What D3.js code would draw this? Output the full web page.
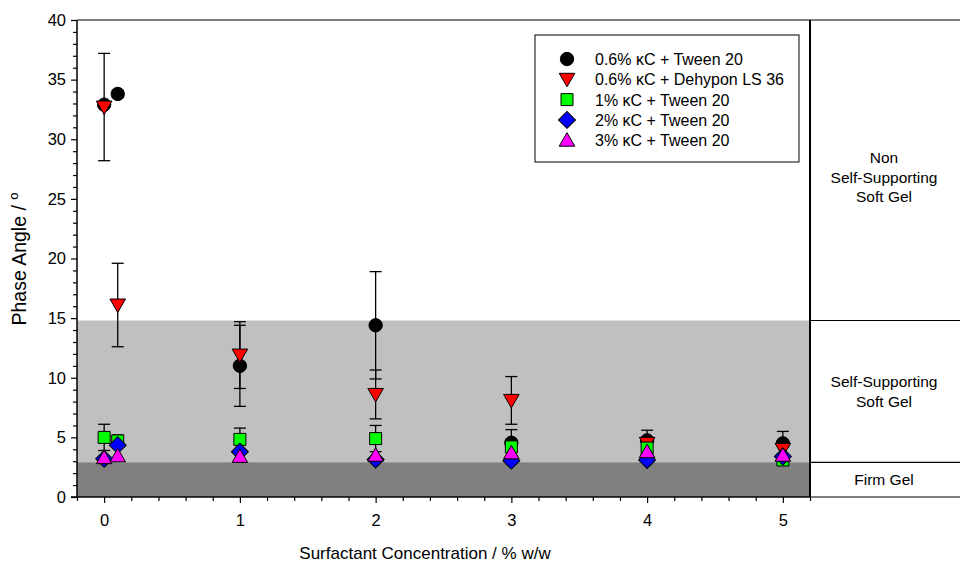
<!DOCTYPE html>
<html><head><meta charset="utf-8">
<script src="https://cdn.jsdelivr.net/npm/d3@7"></script>
<style>body{margin:0;background:#fff;} text{font-family:"Liberation Sans",Arial,sans-serif;}</style>
</head><body><svg id="c" width="960" height="564"></svg>
<script>
const xValues = [0, 0.1, 1, 2, 3, 4, 5];
const seriesNames = ["0.6% \u03BAC + Tween 20", "0.6% \u03BAC + Dehypon LS 36", "1% \u03BAC + Tween 20", "2% \u03BAC + Tween 20", "3% \u03BAC + Tween 20"];
const kc06Tween = [32.9, 33.8, 11.0, 14.4, 4.55, 4.75, 4.5];
const kc06Tween_err = [0, 0.3, 3.4, 4.5, 1.1, 0.85, 1.0];
const kc06Dehypon = [32.7, 16.1, 11.9, 8.6, 8.1, 4.5, 4.0];
const kc06Dehypon_err = [4.5, 3.5, 2.8, 2.05, 2.0, 0, 0];
const kc1Tween = [5.0, 4.7, 4.83, 4.9, 4.2, 4.1, 3.1];
const kc1Tween_err = [1.1, 0.5, 0.95, 1.1, 0, 0, 0];
const kc2Tween = [3.2, 4.35, 3.8, 3.15, 3.05, 3.1, 3.4];
const kc3Tween = [3.3, 3.45, 3.4, 3.5, 3.7, 3.8, 3.5];
const yTicks = [0, 5, 10, 15, 20, 25, 30, 35, 40];
const xTicks = [0, 1, 2, 3, 4, 5];
const zoneBounds = [2.9, 14.8];
const zoneLabels = [["Firm Gel"], ["Self-Supporting", "Soft Gel"], ["Non", "Self-Supporting", "Soft Gel"]];

const svg = d3.select("#c");
const L = 77, R = 810, T = 20, B = 497, PR = 960;
const x = d3.scaleLinear().domain([-0.2, 5.2]).range([L, R]);
const y = d3.scaleLinear().domain([0, 40]).range([B, T]);

// shaded zones
svg.append("rect").attr("x", L).attr("width", R - L).attr("y", y(zoneBounds[1])).attr("height", y(0) - y(zoneBounds[1])).attr("fill", "#c0c0c0");
svg.append("rect").attr("x", L).attr("width", R - L).attr("y", y(zoneBounds[0])).attr("height", y(0) - y(zoneBounds[0])).attr("fill", "#808080");

// frame lines
svg.append("line").attr("x1", L).attr("x2", PR).attr("y1", T).attr("y2", T).attr("stroke", "#000").attr("stroke-width", 1.2);
svg.append("line").attr("x1", R).attr("x2", PR).attr("y1", B).attr("y2", B).attr("stroke", "#000").attr("stroke-width", 1.2);
zoneBounds.forEach(b => svg.append("line").attr("x1", R).attr("x2", PR).attr("y1", y(b)).attr("y2", y(b)).attr("stroke", "#000").attr("stroke-width", 1.2));
svg.append("line").attr("x1", R).attr("x2", R).attr("y1", T).attr("y2", B).attr("stroke", "#000").attr("stroke-width", 2);

// zone labels
const zoneCenters = [(0 + zoneBounds[0]) / 2, (zoneBounds[0] + zoneBounds[1]) / 2, 26.8];
zoneLabels.forEach((lines, i) => {
  const cy = y(zoneCenters[i]);
  const n = lines.length, lh = 19.5;
  lines.forEach((t, j) => {
    svg.append("text").attr("x", 884).attr("y", cy + (j - (n - 1) / 2) * lh + 5.5)
      .attr("text-anchor", "middle").attr("font-size", 15.5).text(t);
  });
});

// axes
const yAxis = d3.axisLeft(y).tickValues(yTicks).tickSize(6).tickPadding(5);
const yg = svg.append("g").attr("transform", `translate(${L},0)`).call(yAxis);
const yMinor = d3.axisLeft(y).tickValues(d3.range(0, 41, 1).filter(v => v % 5)).tickSize(4).tickFormat("");
svg.append("g").attr("transform", `translate(${L},0)`).call(yMinor).select(".domain").remove();
const xAxis = d3.axisBottom(x).tickValues(xTicks).tickFormat(d3.format("d")).tickSize(6).tickPadding(11);
const xg = svg.append("g").attr("transform", `translate(0,${B})`).call(xAxis);
const xMinor = d3.axisBottom(x).tickValues(d3.range(-0.2, 5.21, 0.2).filter(v => Math.abs(v - Math.round(v)) > 0.01)).tickSize(4).tickFormat("");
svg.append("g").attr("transform", `translate(0,${B})`).call(xMinor).select(".domain").remove();
svg.selectAll(".domain").attr("stroke-width", 1.5);
yg.select(".domain").attr("d", `M-6,${B}H0V${T}`);
xg.select(".domain").attr("d", `M${L},0H${R}`);
svg.selectAll(".tick line").attr("stroke-width", 1.2);
svg.selectAll(".tick text").attr("font-size", 16.5).attr("font-family", "Liberation Sans, Arial, sans-serif").attr("fill", "#000");

// axis titles
svg.append("text").attr("x", 425).attr("y", 559).attr("text-anchor", "middle").attr("font-size", 17).text("Surfactant Concentration / % w/w");
const yt = svg.append("text").attr("transform", "translate(26,259) rotate(-90)").attr("text-anchor", "middle").attr("font-size", 19.5);
yt.append("tspan").text("Phase Angle / ");
yt.append("tspan").attr("font-size", 13).attr("dy", -8).text("o");

// symbols
const sym = {
  circle: d3.symbol().type(d3.symbolCircle).size(140),
  tri: d3.symbol().type(d3.symbolTriangle).size(105),
  square: d3.symbol().type(d3.symbolSquare).size(144),
  diamond: d3.symbol().type(d3.symbolSquare).size(144)
};
const series = [
  {name: seriesNames[0], vals: kc06Tween, err: kc06Tween_err, fill: "#000000", shape: "circle", rot: 0},
  {name: seriesNames[1], vals: kc06Dehypon, err: kc06Dehypon_err, fill: "#ff0000", shape: "tri", rot: 180},
  {name: seriesNames[2], vals: kc1Tween, err: kc1Tween_err, fill: "#00ff00", shape: "square", rot: 0},
  {name: seriesNames[3], vals: kc2Tween, err: null, fill: "#0000ff", shape: "diamond", rot: 45},
  {name: seriesNames[4], vals: kc3Tween, err: null, fill: "#ff00ff", shape: "tri", rot: 0}
];

series.forEach(s => {
  const g = svg.append("g");
  if (s.err) {
    s.vals.forEach((v, i) => {
      const e = s.err[i]; if (!e) return;
      const cx = x(xValues[i]);
      g.append("line").attr("x1", cx).attr("x2", cx).attr("y1", y(v - e)).attr("y2", y(v + e)).attr("stroke", "#000").attr("stroke-width", 1.3);
      [v - e, v + e].forEach(w => g.append("line").attr("x1", cx - 6).attr("x2", cx + 6).attr("y1", y(w)).attr("y2", y(w)).attr("stroke", "#000").attr("stroke-width", 1.3));
    });
  }
  s.vals.forEach((v, i) => {
    const dy = s.shape === "tri" ? (s.rot ? -1.5 : 1.5) : 0;
    g.append("path").attr("d", sym[s.shape]())
      .attr("transform", `translate(${x(xValues[i])},${y(v) + dy}) rotate(${s.rot})`)
      .attr("fill", s.fill).attr("stroke", "#000").attr("stroke-width", 1);
  });
});

// legend
const lg = svg.append("g");
lg.append("rect").attr("x", 535).attr("y", 35).attr("width", 264).attr("height", 127).attr("fill", "#fff").attr("stroke", "#000").attr("stroke-width", 1);
series.forEach((s, i) => {
  const ly = 59 + i * 20.3;
  const dy = s.shape === "tri" ? (s.rot ? -1.5 : 1.5) : 0;
  lg.append("path").attr("d", sym[s.shape]()).attr("transform", `translate(567,${ly + dy}) rotate(${s.rot})`)
    .attr("fill", s.fill).attr("stroke", "#000").attr("stroke-width", 1);
  lg.append("text").attr("x", 595).attr("y", ly + 6).attr("font-size", 16).text(s.name);
});
</script></body></html>
